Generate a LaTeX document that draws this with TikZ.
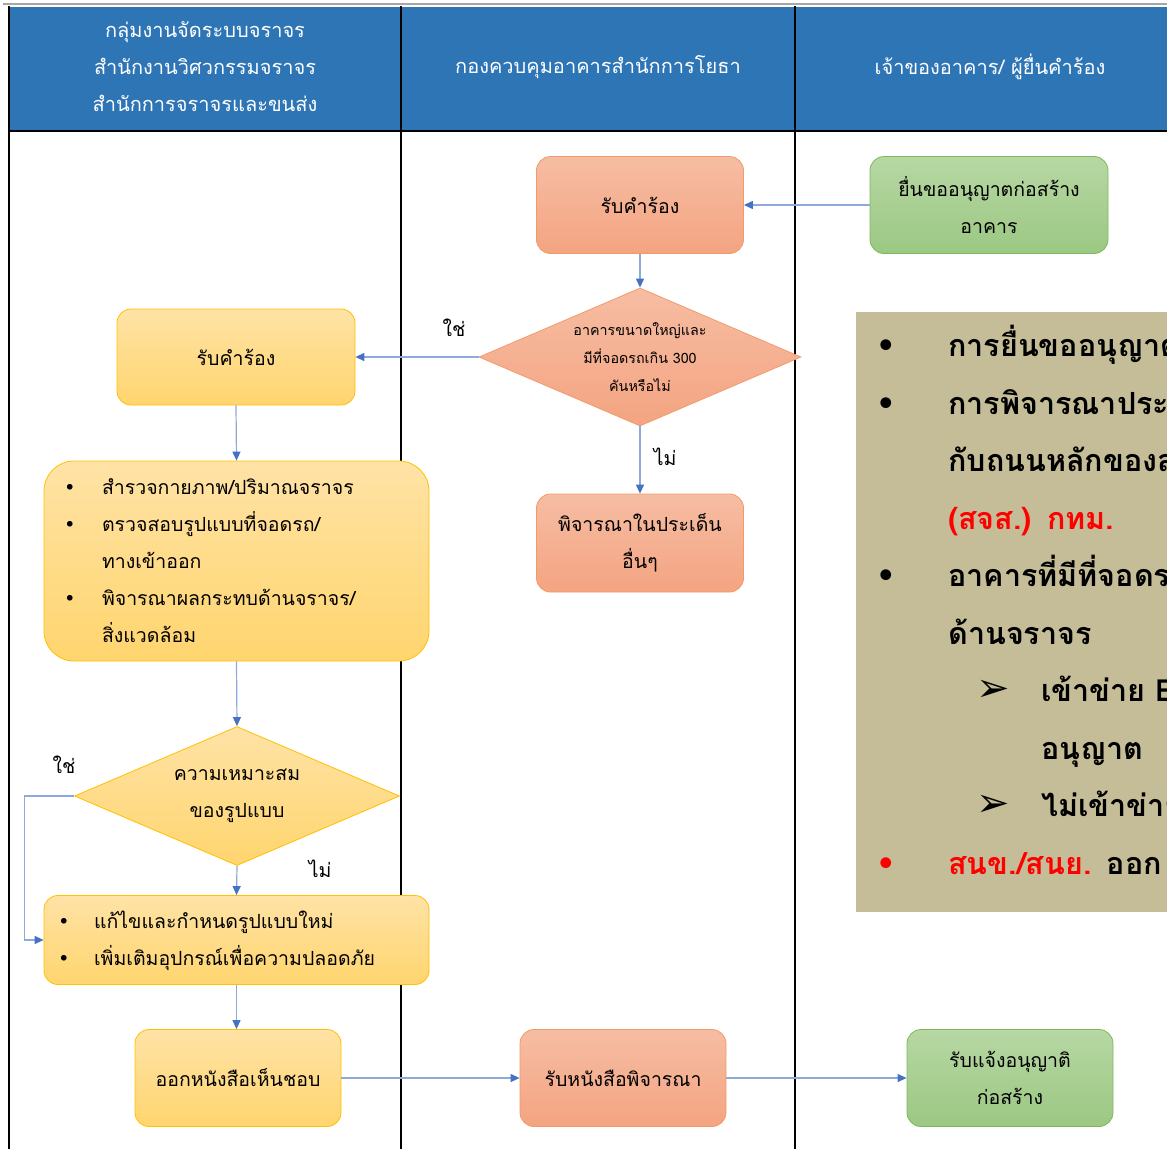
\documentclass[tikz,border=0pt]{standalone}
\usepackage{fontspec}
\setmainfont[Script=Thai]{Loma}
\newfontfamily\symfont{DejaVu Sans}
\usetikzlibrary{shapes.geometric,arrows.meta}

\definecolor{headblue}{HTML}{2E75B6}
\definecolor{flowline}{HTML}{8EA9DB}
\definecolor{flowtip}{HTML}{4472C4}
\definecolor{yelltop}{HTML}{FFE3A6}
\definecolor{yellbot}{HTML}{FFD56E}
\definecolor{yellrim}{HTML}{FFC000}
\definecolor{salmtop}{HTML}{F6BDA3}
\definecolor{salmbot}{HTML}{F4A481}
\definecolor{salmrim}{HTML}{F19A6B}
\definecolor{greentop}{HTML}{B7D7A3}
\definecolor{greenbot}{HTML}{9BC883}
\definecolor{greenrim}{HTML}{7FB85A}
\definecolor{notetan}{HTML}{C4BD97}

\newcommand{\dotitem}[1]{\makebox[#1][l]{\symfont •}}
\newcommand{\arrowitem}{\makebox[65pt][l]{\symfont\fontsize{40}{40}\selectfont ➢}}

\tikzset{
  box/.style={draw, rounded corners=14pt, line width=0.8pt, minimum width=207pt,
    minimum height=97pt, align=center, font=\fontsize{19.5}{37}\selectfont},
  yellowbox/.style={box, draw=yellrim, top color=yelltop, bottom color=yellbot},
  salmonbox/.style={box, draw=salmrim, top color=salmtop, bottom color=salmbot},
  greenbox/.style={box, draw=greenrim, top color=greentop, bottom color=greenbot},
  listbox/.style={yellowbox, align=left, inner xsep=20pt, text width=345pt},
  decision/.style={diamond, line width=0.8pt, inner sep=0pt, align=center},
  flow/.style={draw=flowline, line width=1.2pt, -{Triangle[length=9pt,width=8pt,color=flowtip]}},
  answer/.style={font=\fontsize{19.5}{24}\selectfont},
  headtext/.style={text=white, align=center, font=\fontsize{20}{37}\selectfont},
  lane/.style={line width=2pt}
}

\begin{document}
\begin{tikzpicture}[x=1pt,y=-1pt]
  \useasboundingbox (0,0) rectangle (1167,1149);
  \clip (0,0) rectangle (1167,1149);

  % header of the three lanes
  \fill[headblue] (9,7) rectangle (1167,131);
  \draw[gray!70, line width=1.5pt] (3,4) -- (1167,4);
  \draw[lane] (9,131) -- (1167,131);
  \foreach \x in {9,401,795} {
    \draw[lane] (\x,6) -- (\x,1149);
  }
  \node[headtext] (lane1) at (205,67) {กลุ่มงานจัดระบบจราจร\\สำนักงานวิศวกรรมจราจร\\สำนักการจราจรและขนส่ง};
  \node[headtext] (lane2) at (598,67) {กองควบคุมอาคารสำนักการโยธา};
  \node[headtext] (lane3) at (990,67) {เจ้าของอาคาร/ ผู้ยื่นคำร้อง};

  % steps
  \node[greenbox, minimum width=238pt] (submit) at (989,205) {ยื่นขออนุญาตก่อสร้าง\\อาคาร};
  \node[salmonbox] (ask) at (640,205) {รับคำร้อง};
  \node[decision, draw=salmrim, top color=salmtop, bottom color=salmbot, aspect=2.33,
    minimum width=322pt, minimum height=138pt, font=\fontsize{14.3}{28}\selectfont] (bigq) at (640,357)
    {อาคารขนาดใหญ่และ\\มีที่จอดรถเกิน 300\\คันหรือไม่};
  \node[yellowbox, minimum width=238pt, minimum height=96pt] (intake) at (236,357) {รับคำร้อง};
  \node[salmonbox, minimum height=98pt] (other) at (640,543) {พิจารณาในประเด็น\\อื่นๆ};
  \node[listbox, rounded corners=30pt, minimum height=200pt] (survey) at (236.5,561) {%
    \begin{tabular}{@{}l@{}}
      \dotitem{38pt}สำรวจกายภาพ/ปริมาณจราจร\\
      \dotitem{38pt}ตรวจสอบรูปแบบที่จอดรถ/\\
      \hspace*{38pt}ทางเข้าออก\\
      \dotitem{38pt}พิจารณาผลกระทบด้านจราจร/\\
      \hspace*{38pt}สิ่งแวดล้อม
    \end{tabular}};
  \node[decision, draw=yellrim, top color=yelltop, bottom color=yellbot, aspect=2.34,
    minimum width=325pt, minimum height=139pt, font=\fontsize{19.5}{37}\selectfont] (fitq) at (237,796)
    {ความเหมาะสม\\ของรูปแบบ};
  \node[listbox, inner xsep=14pt, text width=357pt, minimum height=89pt] (revise) at (236.5,940) {%
    \begin{tabular}{@{}l@{}}
      \dotitem{36pt}แก้ไขและกำหนดรูปแบบใหม่\\
      \dotitem{36pt}เพิ่มเติมอุปกรณ์เพื่อความปลอดภัย
    \end{tabular}};
  \node[yellowbox, minimum width=206pt] (approve) at (238,1078) {ออกหนังสือเห็นชอบ};
  \node[salmonbox, minimum width=206pt] (receive) at (623,1078) {รับหนังสือพิจารณา};
  \node[greenbox, minimum width=206pt] (notify) at (1010,1078) {รับแจ้งอนุญาติ\\ก่อสร้าง};

  % note on the right
  \node[fill=notetan, anchor=north west, inner xsep=20pt, inner ysep=0pt, minimum height=600pt,
    text width=420pt, align=left, font=\bfseries\fontsize{30.5}{57.5}\selectfont] (note) at (856,312) {%
    \begin{tabular}{@{}l@{}}
      \dotitem{72pt}การยื่นขออนุญาต\\
      \dotitem{72pt}การพิจารณาประ\\
      \hspace*{72pt}กับถนนหลักของส\\
      \hspace*{72pt}\textcolor{red}{(สจส.) กทม.}\\
      \dotitem{72pt}อาคารที่มีที่จอดรถ\\
      \hspace*{72pt}ด้านจราจร\\
      \hspace*{100pt}\arrowitem เข้าข่าย E\\
      \hspace*{165pt}อนุญาต\\
      \hspace*{100pt}\arrowitem ไม่เข้าข่าย\\
      {\color{red}\dotitem{72pt}สนข./สนย.} ออก\\[16pt]
    \end{tabular}};

  % connectors
  \draw[flow] (submit.west) -- (ask.east);
  \draw[flow] (ask.south) -- (bigq.north);
  \draw[flow] (bigq.west) -- node[answer, pos=0.2, above=16pt] {ใช่} (intake.east);
  \draw[flow] (bigq.south) -- node[answer, pos=0.45, right=10pt] {ไม่} (other.north);
  \draw[flow] (intake.south) -- (survey.north);
  \draw[flow] (survey.south) -- (fitq.north);
  \draw[flow] (fitq.south) -- node[answer, pos=0.1, right=68pt] {ไม่} (revise.north);
  \draw[flow] (fitq.west) -- node[answer, pos=0.2, above=18pt] {ใช่} ++(-50,0) |- (revise.west);
  \draw[flow] (revise.south) -- (revise.south |- approve.north);
  \draw[flow] (approve.east) -- (receive.west);
  \draw[flow] (receive.east) -- (notify.west);
\end{tikzpicture}
\end{document}
